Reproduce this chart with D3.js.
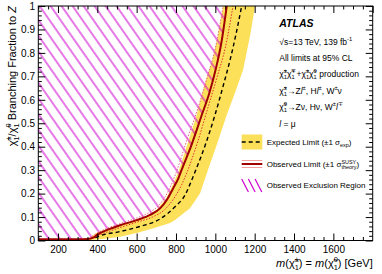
<!DOCTYPE html>
<html><head><meta charset="utf-8">
<script src="https://cdn.jsdelivr.net/npm/d3@7"></script>
<style>
body{margin:0;background:#fff;}
svg{display:block;font-family:"Liberation Sans",Arial,Helvetica,sans-serif;}
</style></head>
<body>
<svg id="c" width="382" height="274"></svg>
<script>
// ---------- data (mass [GeV], branching fraction to Z) ----------
const observedMass = [100,200,300,350,380,400,450,516,600,668,719,753,786,812,828,880,931,970,1001,1030,1058];
const observedBF   = [0.005,0.005,0.005,0.006,0.012,0.025,0.045,0.065,0.087,0.109,0.137,0.173,0.223,0.265,0.30,0.41,0.535,0.63,0.727,0.84,1.0];

const obsUpMass = [360,400,516,600,680,740,790,830,860,910,960,1010,1050,1090];
const obsUpBF   = [0.006,0.02,0.055,0.078,0.10,0.13,0.18,0.24,0.30,0.42,0.56,0.70,0.82,1.0];
const obsDnMass = [360,400,516,600,660,710,740,775,805,860,910,960,1000,1040];
const obsDnBF   = [0.01,0.032,0.072,0.096,0.118,0.148,0.18,0.235,0.30,0.44,0.56,0.70,0.82,1.0];

const expectedMass = [390,413,515,617,719,795,846,880,897,950,998,1040,1075,1105,1134];
const expectedBF   = [0.012,0.02,0.038,0.06,0.092,0.144,0.194,0.258,0.293,0.41,0.535,0.66,0.77,0.88,1.0];

// +-1 sigma_exp band: upper/left edge and lower/right edge
const bandUpMass = [340,360,400,470,560,640,700,750,785,815,850,905,940,985,1010,1040];
const bandUpBF   = [0.0,0.012,0.035,0.055,0.078,0.10,0.13,0.18,0.24,0.30,0.39,0.535,0.65,0.77,0.86,1.0];
const bandLoMass = [340,450,516,600,685,770,795,871,922,962,1000,1058,1100,1141,1178,1202];
const bandLoBF   = [0.0,0.008,0.016,0.032,0.052,0.075,0.087,0.137,0.20,0.30,0.39,0.535,0.63,0.727,0.88,1.0];

const xLabelled = [200,400,600,800,1000,1200,1400,1600];
const xTickLabels = ["200","400","600","800","1000","1200","1400","1600"];
const yMajor = [0,0.1,0.2,0.3,0.4,0.5,0.6,0.7,0.8,0.9,1];
const yTickLabels = ["0","0.1","0.2","0.3","0.4","0.5","0.6","0.7","0.8","0.9","1"];

// ---------- layout ----------
const svg = d3.select("#c");
const L=38.3, R=372.7, T=6, B=240.5;
const x = d3.scaleLinear([100,1800],[L,R]);
const y = d3.scaleLinear([0,1],[B,T]);
const zip = (a,b)=>a.map((v,i)=>[v,b[i]]);

const defs = svg.append("defs");
defs.append("clipPath").attr("id","plotclip").append("rect")
  .attr("x",L).attr("y",T).attr("width",R-L).attr("height",B-T);
const pat = defs.append("pattern").attr("id","hatch").attr("patternUnits","userSpaceOnUse")
  .attr("width",9).attr("height",9).attr("patternTransform","rotate(-35)");
pat.append("line").attr("x1",2).attr("y1",-1).attr("x2",2).attr("y2",10)
  .attr("stroke","#d000d0").attr("stroke-width",1.05);

const plot = svg.append("g").attr("clip-path","url(#plotclip)");
const line = d3.line().x(d=>x(d[0])).y(d=>y(d[1]));
const curve = d3.line().x(d=>x(d[0])).y(d=>y(d[1])).curve(d3.curveMonotoneX);

// yellow band
const bandPts = zip(bandUpMass,bandUpBF).concat(zip(bandLoMass,bandLoBF).reverse());
plot.append("path").attr("d", line(bandPts)+"Z").attr("fill","#fde05a").attr("stroke","none");

// hatched exclusion region (left of / above the observed limit)
const obsPts = zip(observedMass,observedBF);
plot.append("path").attr("d", curve(obsPts) + "L" + x(1058)+","+y(1.05)+"L"+x(100)+","+y(1.05)+"Z")
  .attr("fill","url(#hatch)").attr("stroke","none");

// theory +-1 sigma dotted lines
plot.append("path").attr("d",curve(zip(obsUpMass,obsUpBF))).attr("fill","none")
  .attr("stroke","#e03030").attr("stroke-width",1).attr("stroke-dasharray","1.5 1.5");
plot.append("path").attr("d",curve(zip(obsDnMass,obsDnBF))).attr("fill","none")
  .attr("stroke","#e86080").attr("stroke-width",1).attr("stroke-dasharray","1.5 1.5");
// expected
plot.append("path").attr("d",curve(zip(expectedMass,expectedBF))).attr("fill","none")
  .attr("stroke","#000").attr("stroke-width",1.4).attr("stroke-dasharray","4 3");
// observed
plot.append("path").attr("d",curve(obsPts)).attr("fill","none")
  .attr("stroke","#a00000").attr("stroke-width",2);

// ---------- axes ----------
const xMajor = xLabelled.concat([1800]);
const xMinor = d3.range(100,1801,50).filter(v=>!xMajor.includes(v));
const yMinor = d3.range(0,1.0001,0.02).map(v=>+v.toFixed(2)).filter(v=>!yMajor.some(m=>Math.abs(m-v)<1e-6));
function styleAxis(g){ g.select(".domain").remove(); g.selectAll("line").attr("stroke","#000"); g.selectAll("text").attr("font-family","Liberation Sans, Arial, sans-serif").attr("font-size",10).attr("fill","#000"); }

svg.append("g").attr("transform",`translate(0,${B})`)
  .call(d3.axisBottom(x).tickValues(xLabelled).tickSize(-7).tickPadding(5.2).tickFormat((d,i)=>xTickLabels[i])).call(styleAxis);
svg.append("g").attr("transform",`translate(0,${B})`)
  .call(d3.axisBottom(x).tickValues(xMinor).tickSize(-3.5).tickFormat(null).tickFormat(()=>null)).call(styleAxis);
svg.append("g").attr("transform",`translate(0,${T})`)
  .call(d3.axisTop(x).tickValues(xMajor).tickSize(-7).tickFormat(()=>null)).call(styleAxis);
svg.append("g").attr("transform",`translate(0,${T})`)
  .call(d3.axisTop(x).tickValues(xMinor).tickSize(-3.5).tickFormat(()=>null)).call(styleAxis);
svg.append("g").attr("transform",`translate(${L},0)`)
  .call(d3.axisLeft(y).tickValues(yMajor).tickSize(-7).tickPadding(3.3).tickFormat((d,i)=>yTickLabels[i])).call(styleAxis);
svg.append("g").attr("transform",`translate(${L},0)`)
  .call(d3.axisLeft(y).tickValues(yMinor).tickSize(-3.5).tickFormat(()=>null)).call(styleAxis);
svg.append("g").attr("transform",`translate(${R},0)`)
  .call(d3.axisRight(y).tickValues(yMajor).tickSize(-7).tickFormat(()=>null)).call(styleAxis);
svg.append("g").attr("transform",`translate(${R},0)`)
  .call(d3.axisRight(y).tickValues(yMinor).tickSize(-3.5).tickFormat(()=>null)).call(styleAxis);
// remove empty tick texts
svg.selectAll(".tick text").filter(function(){ return !this.textContent; }).remove();
svg.append("rect").attr("x",L).attr("y",T).attr("width",R-L).attr("height",B-T)
  .attr("fill","none").attr("stroke","#000").attr("stroke-width",1);

// ---------- rich text helper ----------
// parts: strings, or {t, sup, sub, it}; sup and sub are stacked
function rich(parent, px, py, parts, size, anchor, attrs){
  const t = parent.append("text").attr("x",px).attr("y",py).attr("font-size",size)
    .attr("fill","#000").attr("text-anchor",anchor||"start");
  if(attrs) for(const k in attrs) t.attr(k,attrs[k]);
  let off=0, pend=0;
  const add=(txt,target,fs)=>{
    const s=t.append("tspan").attr("dy",target-off).text(txt);
    off=target;
    if(fs) s.attr("font-size",fs);
    if(pend){ s.attr("dx",pend); pend=0; }
    return s;
  };
  const ss=size*0.68;
  for(const p of parts){
    if(typeof p==="string"){ add(p,0); continue; }
    if(p.t){ const b=add(p.t,0); if(p.it) b.attr("font-style","italic"); }
    let supW=0;
    if(p.sup!==undefined){ supW=add(p.sup,-0.42*size,ss).node().getComputedTextLength(); }
    if(p.sub!==undefined){
      if(p.sup!==undefined) pend=-supW;
      const s=add(p.sub,0.28*size,ss);
      const sw=s.node().getComputedTextLength();
      if(p.sup!==undefined && sw<supW) pend=supW-sw;
    }
  }
  return t;
}
const chi="χ\u0303";

// ATLAS label & info
const ax=279.3;
svg.append("text").attr("x",ax).attr("y",27).attr("font-size",10.5).attr("font-weight","bold")
  .attr("font-style","italic").text("ATLAS");
rich(svg, ax, 45, ["\u221As=13 TeV, 139 fb",{sup:"-1"}], 8.5);
rich(svg, ax, 60.5, ["All limits at 95% CL"], 8.5);
rich(svg, ax, 77, [{t:chi,sup:"±",sub:"1"},{t:chi,sup:"∓",sub:"1"},"+",{t:chi,sup:"±",sub:"1"},{t:chi,sup:"0",sub:"1"}," production"], 8.5);
rich(svg, ax, 93.5, [{t:chi,sup:"±",sub:"1"},"\u2192Z",{t:"l",it:true,sup:"±"},", H",{t:"l",it:true,sup:"±"},", W",{sup:"±"},"ν"], 8.5);
rich(svg, ax, 110, [{t:chi,sup:"0",sub:"1"},"\u2192Zν, Hν, W",{sup:"±"},{t:"l",it:true,sup:"∓"}], 8.5);
rich(svg, ax, 126.5, [{t:"l",it:true}," = μ"], 8.5);

// legend
const lx0=241.7, lx1=262.3, tx=266.7;
svg.append("rect").attr("x",lx0).attr("y",134.5).attr("width",lx1-lx0).attr("height",15).attr("fill","#fde05a");
svg.append("line").attr("x1",lx0).attr("x2",lx1).attr("y1",142).attr("y2",142)
  .attr("stroke","#000").attr("stroke-width",1.4).attr("stroke-dasharray","4 3");
rich(svg, tx, 145, ["Expected Limit (±1 σ",{sub:"exp"},")"], 8);
[160.5,167.5].forEach(v=>svg.append("line").attr("x1",lx0).attr("x2",lx1).attr("y1",v).attr("y2",v)
  .attr("stroke","#f0a0a0").attr("stroke-width",1));
svg.append("line").attr("x1",lx0).attr("x2",lx1).attr("y1",164).attr("y2",164)
  .attr("stroke","#a00000").attr("stroke-width",2);
rich(svg, tx, 167, ["Observed Limit (±1 σ",{sup:"SUSY",sub:"theory"},")"], 8);
[0,1,2].forEach(i=>svg.append("line").attr("x1",lx0+i*6.7).attr("y1",179).attr("x2",lx0+6.7+i*6.7).attr("y2",192)
  .attr("stroke","#d000d0").attr("stroke-width",1.2));
rich(svg, tx, 188, ["Observed Exclusion Region"], 8);

// axis titles
rich(svg, R, 267, [{t:"m",it:true},"(",{t:chi,sup:"±",sub:"1"},") = ",{t:"m",it:true},"(",{t:chi,sup:"0",sub:"1"},") [GeV]"], 11, "end");
rich(svg, 0, 0, [{t:chi,sup:"±",sub:"1"},"/",{t:chi,sup:"0",sub:"1"}," Branching Fraction to ",{t:"Z",it:true}], 11, "end",
  {transform:`translate(16,${T}) rotate(-90)`});
</script>
</body></html>
